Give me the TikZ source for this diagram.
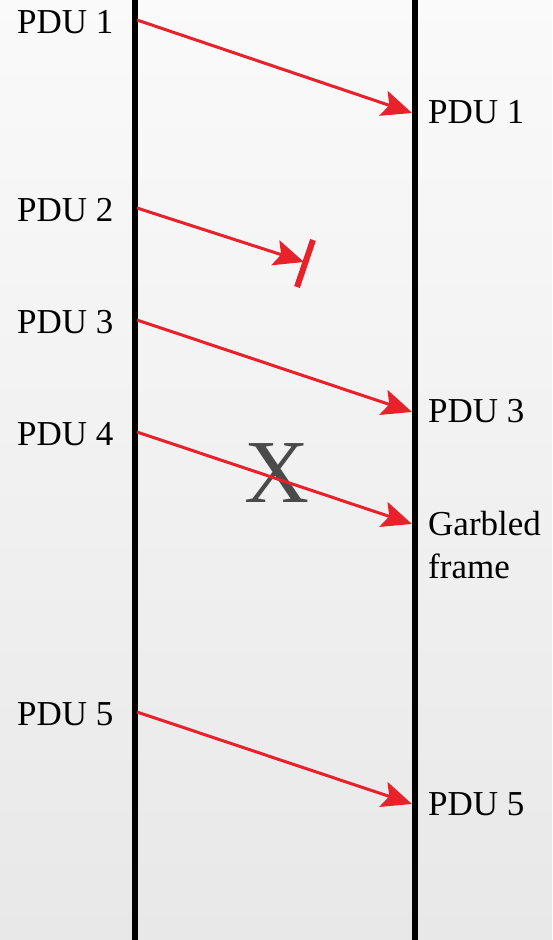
\documentclass[tikz,border=0pt]{standalone}
\usepackage{fontspec}
\setmainfont{Liberation Serif}
\usetikzlibrary{arrows.meta}
\definecolor{arrred}{HTML}{E8212B}
\definecolor{xgray}{HTML}{4A4A4A}
\begin{document}
\begin{tikzpicture}[x=1pt,y=-1pt,
  lbl/.style={font=\fontsize{35}{43}\selectfont, inner sep=0pt, anchor=west, text=black},
  timeline/.style={line width=6pt, black},
  pdu/.style={arrred, line width=3pt, -{Stealth[length=30pt,width=26pt,inset=6pt]}},
  blockbar/.style={arrred, line width=6pt}]
\useasboundingbox (0,0) rectangle (552,940);
\shade[top color=black!2, bottom color=black!9] (0,0) rectangle (552,940);
% X mark (behind lines)
\node[font=\fontsize{90}{92}\selectfont, text=xgray, inner sep=0pt] (xmark) at (277,473) {X};
% timelines
\coordinate (ltop) at (135,0); \coordinate (lbot) at (135,940);
\coordinate (rtop) at (415,0); \coordinate (rbot) at (415,940);
\draw[timeline] (ltop) -- (lbot);
\draw[timeline] (rtop) -- (rbot);
% left labels
\node[lbl] (l1) at (17,22) {PDU 1};
\node[lbl] (l2) at (17,210) {PDU 2};
\node[lbl] (l3) at (17,322) {PDU 3};
\node[lbl] (l4) at (17,434) {PDU 4};
\node[lbl] (l5) at (17,714) {PDU 5};
% right labels
\node[lbl] (r1) at (428,112) {PDU 1};
\node[lbl] (r3) at (428,411) {PDU 3};
\node[lbl, align=left] (r4) at (428,545) {Garbled\\frame};
\node[lbl] (r5) at (428,804) {PDU 5};
% arrow endpoints
\coordinate (s1) at (137,20);  \coordinate (e1) at (412,113);
\coordinate (s2) at (137,208); \coordinate (e2) at (304,262);
\coordinate (s3) at (137,320); \coordinate (e3) at (412,412);
\coordinate (s4) at (137,432); \coordinate (e4) at (412,524);
\coordinate (s5) at (137,712); \coordinate (e5) at (412,804);
\coordinate (b1) at (313,240); \coordinate (b2) at (297,287);
\draw[pdu] (s1) -- (e1);
\draw[pdu] (s2) -- (e2);
\draw[blockbar] (b1) -- (b2);
\draw[pdu] (s3) -- (e3);
\draw[pdu] (s4) -- (e4);
\draw[pdu] (s5) -- (e5);
\end{tikzpicture}
\end{document}
